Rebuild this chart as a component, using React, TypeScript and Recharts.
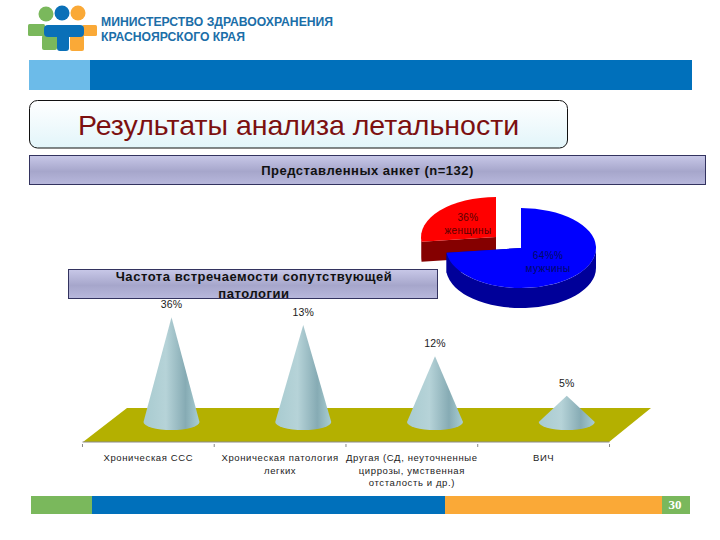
import React from "react";
import { BarChart, Bar, XAxis, YAxis, LabelList, PieChart, Pie } from "recharts";

const categories = [
  "Хроническая ССС",
  "Хроническая патология\nлегких",
  "Другая (СД, неуточненные\nциррозы, умственная\nотсталость и др.)",
  "ВИЧ",
];
const valueLabels = ["36%", "13%", "12%", "5%"];
// Heights of the cones as they are drawn in the picture (not proportional to the printed labels).
const coneHeights = [24, 22.5, 16.5, 8.9];

const genders = ["женщины", "мужчины"];
const genderShares = [36, 64];
const genderLabels = ["36%", "64%%"];
const genderColors = ["#ff0000", "#0000ff"];
const genderWallColors = ["#850000", "#000099"];

const headerLines = ["МИНИСТЕРСТВО ЗДРАВООХРАНЕНИЯ", "КРАСНОЯРСКОГО КРАЯ"];
const pageTitle = "Результаты анализа летальности";
const surveyTitle = "Представленных анкет (n=132)";
const chartTitleLines = ["Частота встречаемости сопутствующей", "патологии"];
const pageNumber = "30";

const coneData = categories.map((name, i) => ({ name, height: coneHeights[i], label: valueLabels[i] }));
const genderData = genders.map((name, i) => ({
  name,
  value: genderShares[i],
  label: genderLabels[i],
  fill: genderColors[i],
  wall: genderWallColors[i],
}));

const FONT = "'Liberation Sans', Arial, sans-serif";
const CONE_SHIFT = 23;
const CONE_RX = 28;
const CONE_RY = 8;
const CONE_BASE_LIFT = 20;
const HALF_BAND = 65.9;
const PIE_RY = 40;
const PIE_DEPTH = 20;
const RED_OFFSET = { x: -25, y: -11 };
const RED_DRAWN_FRACTION = 97 / 360;

function ConeShape(props: any) {
  const { x, y, width, height } = props;
  const cx = x + width / 2 + CONE_SHIFT;
  const baseY = y + height - CONE_BASE_LIFT;
  const d = `M${cx - CONE_RX},${baseY} L${cx},${y} L${cx + CONE_RX},${baseY} A${CONE_RX},${CONE_RY} 0 0 1 ${cx - CONE_RX},${baseY} Z`;
  return <path d={d} fill="url(#coneFill)" />;
}

function ConeLabel(props: any) {
  const { x, y, width, value } = props;
  return (
    <text x={x + width / 2 + CONE_SHIFT} y={y - 9} textAnchor="middle" fontFamily={FONT} fontSize={10.5} letterSpacing={0.2} fill="#1a1a1a">
      {value}
    </text>
  );
}

function CategoryTick(props: any) {
  const { x, y, payload, index } = props;
  const lines = String(payload.value).split("\n");
  const axisY = y - 3;
  return (
    <g>
      <line x1={x - HALF_BAND} x2={x - HALF_BAND} y1={axisY} y2={axisY + 3} stroke="#8a8a8a" />
      {index === categories.length - 1 && <line x1={x + HALF_BAND} x2={x + HALF_BAND} y1={axisY} y2={axisY + 3} stroke="#8a8a8a" />}
      <text textAnchor="middle" fontFamily={FONT} fontSize={9.5} letterSpacing={0.62} fill="#222">
        {lines.map((line, i) => (
          <tspan key={i} x={x} y={axisY + 17 + i * 12.5}>
            {line}
          </tspan>
        ))}
      </text>
    </g>
  );
}

// The drawn 3D pie is distorted: the slices do not cover their true angles.
function drawnAngle(a: number) {
  const t = (a - 90) / 360;
  const k = genderShares[0] / 100;
  const u = t <= k ? (t / k) * RED_DRAWN_FRACTION : RED_DRAWN_FRACTION + ((t - k) / (1 - k)) * (1 - RED_DRAWN_FRACTION);
  return 90 + u * 360;
}

function PieSlice(props: any) {
  const { cx, cy, outerRadius, startAngle, endAngle, payload } = props;
  const item = payload?.payload ?? payload;
  const isRed = item.name === genders[0];
  const ox = cx + (isRed ? RED_OFFSET.x : 0);
  const oy = cy + (isRed ? RED_OFFSET.y : 0);
  const a0 = drawnAngle(startAngle);
  const a1 = drawnAngle(endAngle);
  const pt = (a: number, dz = 0) => {
    const r = (a * Math.PI) / 180;
    return [ox + outerRadius * Math.cos(r), oy - PIE_RY * Math.sin(r) + dz];
  };
  const large = a1 - a0 > 180 ? 1 : 0;
  const [sx, sy] = pt(a0);
  const [ex, ey] = pt(a1);
  const top = `M${ox},${oy} L${sx},${sy} A${outerRadius},${PIE_RY} 0 ${large} 0 ${ex},${ey} Z`;
  const wallStart = Math.max(a0, 180);
  const wallEnd = Math.min(a1, 360);
  const walls: string[] = [];
  if (wallEnd > wallStart) {
    const [wx0, wy0] = pt(wallStart);
    const [wx1, wy1] = pt(wallEnd);
    walls.push(
      `M${wx0},${wy0} A${outerRadius},${PIE_RY} 0 0 0 ${wx1},${wy1} L${wx1},${wy1 + PIE_DEPTH} A${outerRadius},${PIE_RY} 0 0 1 ${wx0},${wy0 + PIE_DEPTH} Z`
    );
  }
  [[sx, sy], [ex, ey]].forEach(([px, py]) => {
    walls.push(`M${ox},${oy} L${px},${py} L${px},${py + PIE_DEPTH} L${ox},${oy + PIE_DEPTH} Z`);
  });
  const tx = isRed ? 468 - cx : 548 - cx;
  const ty = isRed ? 221 - cy : 259 - cy;
  const ink = isRed ? "#5a0000" : "#000a66";
  return (
    <g>
      {walls.map((d, i) => (
        <path key={i} d={d} fill={item.wall} />
      ))}
      <path d={top} fill={item.fill} />
      <text x={cx + tx} y={cy + ty} textAnchor="middle" fontFamily={FONT} fontSize={10} letterSpacing={0.4} fill={ink}>
        {item.label}
      </text>
      <text x={cx + tx} y={cy + ty + 13} textAnchor="middle" fontFamily={FONT} fontSize={10} letterSpacing={0.4} fill={ink}>
        {item.name}
      </text>
    </g>
  );
}

function Backdrop() {
  return (
    <svg width={720} height={540} style={{ position: "absolute", left: 0, top: 0 }}>
      <defs>
        <linearGradient id="titleFill" x1="0" y1="0" x2="0" y2="1">
          <stop offset="0" stopColor="#ffffff" />
          <stop offset="1" stopColor="#e2f5fa" />
        </linearGradient>
        <linearGradient id="bandFill" x1="0" y1="0" x2="0" y2="1">
          <stop offset="0" stopColor="#c8c8e8" />
          <stop offset="0.55" stopColor="#a6a6cb" />
          <stop offset="1" stopColor="#b8b8dc" />
        </linearGradient>
      </defs>
      {/* logo */}
      <circle cx={46} cy={14} r={7.5} fill="#7ab85c" />
      <circle cx={62} cy={13} r={7.5} fill="#0a70b8" />
      <circle cx={78} cy={13} r={7.5} fill="#faa937" />
      <rect x={28} y={24} width={17} height={12} rx={1.5} fill="#7ab85c" />
      <rect x={42} y={35} width={15} height={15} rx={2} fill="#7ab85c" />
      <rect x={70} y={35} width={14} height={16} rx={2} fill="#faa937" />
      <rect x={82} y={25} width={15} height={11} rx={1.5} fill="#faa937" />
      <rect x={44} y={25} width={40} height={12} rx={4} fill="#0a70b8" />
      <rect x={57} y={30} width={12} height={21} rx={3} fill="#0a70b8" />
      {headerLines.map((line, i) => (
        <text key={line} x={101} y={26 + i * 15} fontFamily={FONT} fontSize={12.2} fontWeight={700} fill="#1b6ea8">
          {line}
        </text>
      ))}
      {/* top band */}
      <rect x={29} y={60} width={61} height={30} fill="#6cbbe9" />
      <rect x={90} y={60} width={602} height={30} fill="#0070bb" />
      {/* page title */}
      <rect x={29.5} y={100.5} width={538} height={47.5} rx={8} fill="url(#titleFill)" stroke="#111" />
      <text x={298.5} y={135} textAnchor="middle" fontFamily={FONT} fontSize={28.5} fill="#7c1010">
        {pageTitle}
      </text>
      {/* survey band */}
      <rect x={29.5} y={155.5} width={676} height={29} fill="url(#bandFill)" stroke="#33335f" />
      <text x={367.5} y={175} textAnchor="middle" fontFamily={FONT} fontSize={13} fontWeight={700} letterSpacing={0.5} fill="#111">
        {surveyTitle}
      </text>
      {/* chart title band */}
      <rect x={68.5} y={269.5} width={369} height={29} fill="url(#bandFill)" stroke="#33335f" />
      {chartTitleLines.map((line, i) => (
        <text key={line} x={254} y={281 + i * 17} textAnchor="middle" fontFamily={FONT} fontSize={13} fontWeight={700} letterSpacing={0.55} fill="#111">
          {line}
        </text>
      ))}
      {/* floor */}
      <polygon points="83,442 127,408 651,408 609,442" fill="#b4b000" />
      {/* footer */}
      <rect x={31} y={496} width={61} height={18} fill="#7ab85c" />
      <rect x={92} y={496} width={353} height={18} fill="#0070bb" />
      <rect x={445} y={496} width={217} height={18} fill="#faa937" />
      <rect x={662} y={496} width={28} height={18} fill="#7ab85c" />
      <text x={675} y={509} textAnchor="middle" fontFamily="'Liberation Serif', serif" fontSize={13} fontWeight={700} fill="#fff">
        {pageNumber}
      </text>
    </svg>
  );
}

export default function App() {
  return (
    <div style={{ position: "absolute", left: 0, top: 0, width: 720, height: 540, background: "#fff", overflow: "hidden" }}>
      <Backdrop />
      <div style={{ position: "absolute", left: 0, top: 0 }}>
        <BarChart width={720} height={540} data={coneData} margin={{ top: 286, right: 110.5, bottom: 0, left: 82.5 }}>
          <defs>
            <linearGradient id="coneFill" x1="0" y1="0" x2="1" y2="0">
              <stop offset="0" stopColor="#a8cbd0" />
              <stop offset="0.4" stopColor="#b6d3d8" />
              <stop offset="0.75" stopColor="#86abb4" />
              <stop offset="1" stopColor="#a9ced3" />
            </linearGradient>
          </defs>
          <YAxis hide domain={[0, 30]} />
          <XAxis
            dataKey="name"
            height={98}
            interval={0}
            axisLine={{ stroke: "#8a8a8a" }}
            tickLine={false}
            tickSize={3}
            tick={<CategoryTick />}
          />
          <Bar dataKey="height" barSize={56} shape={<ConeShape />} isAnimationActive={false}>
            <LabelList dataKey="label" content={<ConeLabel />} />
          </Bar>
        </BarChart>
      </div>
      <div style={{ position: "absolute", left: 0, top: 0 }}>
        <PieChart width={720} height={540} margin={{ top: 0, right: 0, bottom: 0, left: 0 }}>
          <Pie
            data={genderData}
            dataKey="value"
            nameKey="name"
            cx={521}
            cy={248}
            outerRadius={75}
            startAngle={90}
            endAngle={450}
            stroke="none"
            paddingAngle={0}
            shape={<PieSlice />}
            isAnimationActive={false}
          />
        </PieChart>
      </div>
    </div>
  );
}
